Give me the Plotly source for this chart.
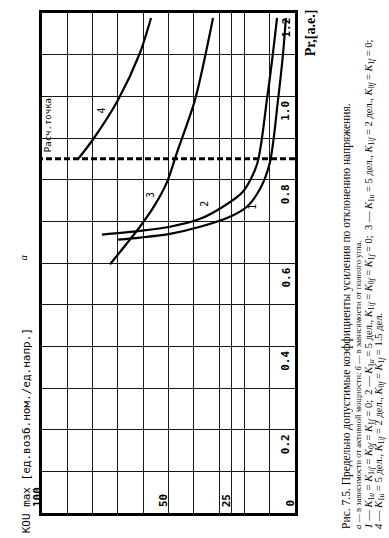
import plotly.graph_objects as go

# ---- axes (the scanned page is turned 90° CCW: Pr runs upward, KOU max runs right-to-left)
pr_tickvals = [0, 0.1, 0.2, 0.3, 0.4, 0.5, 0.6, 0.7, 0.8, 0.9, 1.0, 1.1, 1.2]
pr_ticktext = ["", "", "0.2", "", "0.4", "", "0.6", "", "0.8", "", "1.0", "", "1.2"]  # corner "0" shared with KOU axis
kou_tickvals = [0, 10, 20, 25, 30, 40, 50, 60, 70, 80, 90, 100]
kou_ticktext = ["0", "", "", "25", "", "", "50", "", "", "", "", "100"]

# ---- curves: KOU max versus Pr
curve1_pr = [0.656, 0.661, 0.670, 0.687, 0.711, 0.735, 0.778, 0.842, 0.992, 1.104, 1.188]
curve1_kou = [69.9, 61.3, 49.4, 37.5, 25.7, 19.0, 13.8, 9.9, 6.7, 4.7, 3.6]

curve2_pr = [0.668, 0.677, 0.687, 0.706, 0.735, 0.771, 0.837, 0.992, 1.104, 1.188]
curve2_kou = [76.3, 61.3, 49.4, 37.5, 28.5, 20.6, 15.0, 11.1, 8.7, 7.1]

curve3_pr = [0.597, 0.687, 0.740, 0.794, 0.866, 0.992, 1.188]
curve3_kou = [73.1, 61.3, 55.3, 50.6, 46.6, 39.5, 32.4]

curve4_pr = [0.849, 0.897, 0.992, 1.104, 1.188]
curve4_kou = [85.8, 79.8, 69.9, 61.3, 56.9]

curve_names = ["1", "2", "3", "4"]
label_pr = [0.735, 0.742, 0.763, 0.966]
label_kou = [16.6, 35.6, 57.3, 76.3]

design_point_pr = 0.85
design_label = "Расч.точка"

x_title = "Pr,[a.e.]"
y_title = "KOU max [ед.возб.ном./ед.напр.]"
K = "<i>K</i>"
caption_lines = [
    "Рис. 7.5. Предельно допустимые коэффициенты усиления по отклонению напряжения.",
    "<i>а</i> — в зависимости от активной мощности; <i>б</i> — в зависимости от полного угла.",
    f"<i>1</i> — {K}<sub>1<i>u</i></sub> = {K}<sub>1<i>if</i></sub> = {K}<sub>0<i>f</i></sub> = {K}<sub>1<i>f</i></sub> = 0;  "
    f"2 — {K}<sub>1<i>u</i></sub> = 5 дел., {K}<sub>1<i>if</i></sub> = {K}<sub>0<i>f</i></sub> = {K}<sub>1<i>f</i></sub> = 0;  "
    f"3 — {K}<sub>1<i>u</i></sub> = 5 дел., {K}<sub>1<i>if</i></sub> = 2 дел., {K}<sub>0<i>f</i></sub> = {K}<sub>1<i>f</i></sub> = 0;",
    f"<i>4</i> — {K}<sub>1<i>u</i></sub> = 5 дел., {K}<sub>1<i>if</i></sub> = 2 дел., {K}<sub>0<i>f</i></sub> = {K}<sub>1<i>f</i></sub> = 1.5 дел.",
]
caption_sizes = [11.5, 8.5, 10.5, 10.5]
caption_x = [347, 358, 369, 380]   # pixel columns of the rotated caption lines

W, H = 389, 538
L, R, T, B = 42, 94, 10, 25
PW, PH = W - L - R, H - T - B

def px_to_paper_x(px):
    return (px - L) / PW

def px_to_paper_y(py):
    return (H - B - py) / PH

MONO = "DejaVu Sans Mono"
SERIF = "Liberation Serif"

fig = go.Figure()

for pr, kou in [(curve1_pr, curve1_kou), (curve2_pr, curve2_kou),
                (curve3_pr, curve3_kou), (curve4_pr, curve4_kou)]:
    fig.add_trace(go.Scatter(x=kou, y=pr, mode="lines",
                             line=dict(color="black", width=2.2, shape="spline", smoothing=0.8),
                             showlegend=False, hoverinfo="skip"))

fig.add_trace(go.Scatter(x=[0, 100], y=[design_point_pr, design_point_pr], mode="lines",
                         line=dict(color="black", width=3, dash="6px,3px"),
                         showlegend=False, hoverinfo="skip"))

tick_font = dict(family=MONO, size=11, color="black", weight="bold")
annotations = []

# KOU tick labels: inside, just above the Pr=0 axis, to the left of their grid line
for v, t in zip(kou_tickvals, kou_ticktext):
    if t:
        annotations.append(dict(x=v, y=0, xref="x", yref="y", text=t, showarrow=False,
                                textangle=-90, xanchor="center", yanchor="bottom",
                                xshift=-5, yshift=4, font=tick_font))

# Pr tick labels: inside, along the KOU=0 border, just below their grid line
for v, t in zip(pr_tickvals, pr_ticktext):
    if t:
        annotations.append(dict(x=0, y=v, xref="x", yref="y", text=t, showarrow=False,
                                textangle=-90, xanchor="right", yanchor="top",
                                xshift=-1, yshift=-3, font=tick_font))

for name, xk, yp in zip(curve_names, label_kou, label_pr):
    annotations.append(dict(x=xk, y=yp, xref="x", yref="y", text=name, showarrow=False,
                            textangle=-90, font=dict(family=MONO, size=10, color="black")))

annotations.append(dict(x=97.5, y=design_point_pr + 0.012, xref="x", yref="y", text=design_label,
                        showarrow=False, textangle=-90, xanchor="center", yanchor="bottom",
                        font=dict(family=MONO, size=9, color="black")))

annotations.append(dict(x=px_to_paper_x(26), y=px_to_paper_y(536), xref="paper", yref="paper",
                        text=y_title, showarrow=False, textangle=-90, xanchor="center", yanchor="bottom",
                        font=dict(family=MONO, size=11, color="black")))

annotations.append(dict(x=px_to_paper_x(310), y=px_to_paper_y(56), xref="paper", yref="paper",
                        text="<b>" + x_title + "</b>", showarrow=False, textangle=-90,
                        xanchor="center", yanchor="bottom",
                        font=dict(family=SERIF, size=14, color="black")))

annotations.append(dict(x=px_to_paper_x(15), y=px_to_paper_y(256), xref="paper", yref="paper",
                        text="<i>а</i>", showarrow=False, textangle=-90,
                        font=dict(family=SERIF, size=11, color="black")))

for txt, sz, cx in zip(caption_lines, caption_sizes, caption_x):
    annotations.append(dict(x=px_to_paper_x(cx), y=px_to_paper_y(531), xref="paper", yref="paper",
                            text=txt, showarrow=False, textangle=-90, xanchor="center", yanchor="bottom",
                            font=dict(family=SERIF, size=sz, color="black")))

axis_common = dict(showgrid=True, gridcolor="#1a1a1a", gridwidth=1.2,
                   showline=True, linecolor="black", linewidth=2.5, mirror=True,
                   zeroline=False, ticks="", showticklabels=False)

fig.update_layout(
    width=W, height=H,
    margin=dict(l=L, r=R, t=T, b=B, pad=0),
    paper_bgcolor="white", plot_bgcolor="white",
    annotations=annotations,
    xaxis=dict(range=[100, 0], tickvals=kou_tickvals, ticktext=kou_ticktext, **axis_common),
    yaxis=dict(range=[0, 1.2], tickvals=pr_tickvals, ticktext=pr_ticktext, side="right", **axis_common),
)

fig.write_html("out.html", config={"displayModeBar": False},
               post_script="document.body.style.margin='0';")
